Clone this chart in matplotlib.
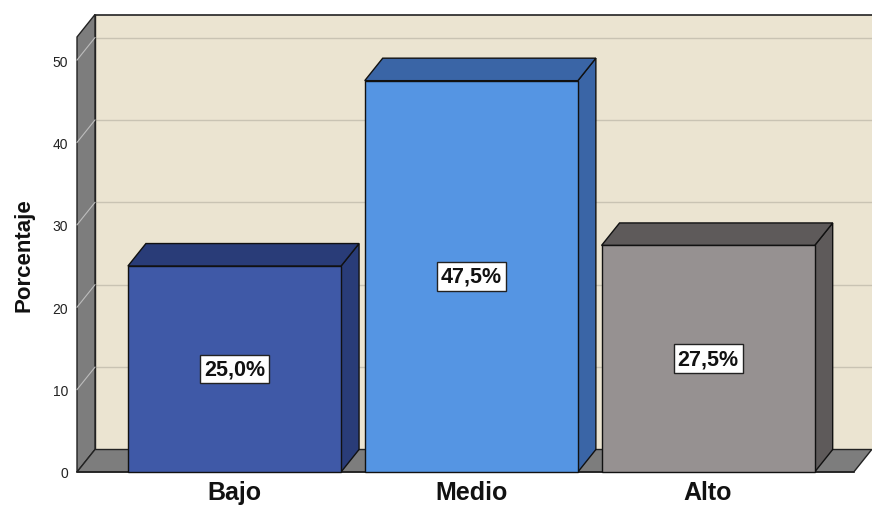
import matplotlib.pyplot as plt
from matplotlib.patches import Polygon

plt.rcParams['font.family'] = ['Liberation Sans', 'DejaVu Sans']

categories = ['Bajo', 'Medio', 'Alto']
values = [25.0, 47.5, 27.5]
labels = ['25,0%', '47,5%', '27,5%']
yticks = [0, 10, 20, 30, 40, 50]

front_colors = ['#3F59A7', '#5595E3', '#969191']
dark_colors = ['#293C78', '#3A65A6', '#5E5A5A']

# 3d look
dx, dy = 0.076, 2.73
bar_w = 0.9
x0, xr = -0.665, 2.615
ymax = 52.8

fig = plt.figure(figsize=(8.72, 5.06), dpi=100)
ax = fig.add_axes([77 / 872, 33 / 506, 795 / 872, 435 / 506])
ax.set_xlim(x0, 2.692)
ax.set_ylim(0, ymax)

# back wall
ax.add_patch(Polygon([(x0 + dx, dy), (2.8, dy), (2.8, ymax + dy), (x0 + dx, ymax + dy)],
                     closed=True, facecolor='#EBE4D1', edgecolor='none', clip_on=False, zorder=0))
ax.plot([x0 + dx, 2.8], [ymax + dy, ymax + dy], color='#222222', lw=1.2, clip_on=False, zorder=1)
ax.plot([x0 + dx, x0 + dx], [dy, ymax + dy], color='#222222', lw=1.0, clip_on=False, zorder=1)

# left wall
ax.add_patch(Polygon([(x0, 0), (x0 + dx, dy), (x0 + dx, ymax + dy), (x0, ymax)],
                     closed=True, facecolor='#7D7D7D', edgecolor='#222222', lw=1.0, clip_on=False, zorder=1))

# floor
ax.add_patch(Polygon([(x0, 0), (xr, 0), (xr + dx, dy), (x0 + dx, dy)],
                     closed=True, facecolor='#7D7D7D', edgecolor='#222222', lw=1.0, clip_on=False, zorder=1))

# gridlines on back wall and left wall
for t in yticks[1:]:
    ax.plot([x0 + dx, 2.8], [t + dy, t + dy], color='#C9C3B3', lw=1.0, clip_on=False, zorder=0.5)
    ax.plot([x0, x0 + dx], [t, t + dy], color='#BDBDBD', lw=0.8, clip_on=False, zorder=1.5)

# bars
for i, (v, fc, dc) in enumerate(zip(values, front_colors, dark_colors)):
    l, r = i - bar_w / 2, i + bar_w / 2
    ax.add_patch(Polygon([(r, 0), (r + dx, dy), (r + dx, v + dy), (r, v)],
                         closed=True, facecolor=dc, edgecolor='#111111', lw=1.0, clip_on=False, zorder=3))
    ax.add_patch(Polygon([(l, v), (l + dx, v + dy), (r + dx, v + dy), (r, v)],
                         closed=True, facecolor=dc, edgecolor='#111111', lw=1.0, clip_on=False, zorder=3))
    ax.add_patch(Polygon([(l, 0), (r, 0), (r, v), (l, v)],
                         closed=True, facecolor=fc, edgecolor='#111111', lw=1.0, clip_on=False, zorder=4))
    ax.text(i, v / 2, labels[i], ha='center', va='center', fontsize=15.5, fontweight='bold',
            color='#111111', zorder=5,
            bbox=dict(boxstyle='square,pad=0.18', facecolor='white', edgecolor='#222222', lw=1.0))

ax.plot([x0, xr], [0, 0], color='#222222', lw=1.2, clip_on=False, zorder=2)

for s in ax.spines.values():
    s.set_visible(False)
ax.set_facecolor('none')
ax.set_yticks(yticks)
ax.set_yticklabels([str(t) for t in yticks], fontsize=10, color='#222222')
ax.tick_params(axis='y', length=0, pad=6.5)
ax.set_xticks(range(len(categories)))
ax.set_xticklabels(categories, fontsize=18, fontweight='bold', color='#111111')
ax.tick_params(axis='x', length=0, pad=6)
ax.set_ylabel('Porcentaje', fontsize=16, fontweight='bold', color='#111111', labelpad=13)

fig.savefig('out.png', dpi=100)
